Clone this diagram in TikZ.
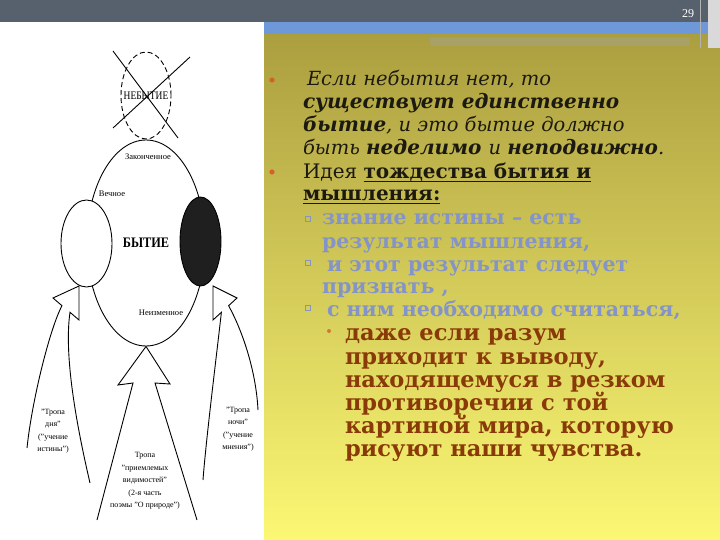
\documentclass[tikz,border=0pt]{standalone}
\usepackage{fontspec}
\setmainfont{Liberation Serif}
\newfontfamily\djs{DejaVu Serif}
\usetikzlibrary{shapes.geometric}
\definecolor{band}{HTML}{57616D}
\definecolor{olivetop}{HTML}{A99C3E}
\definecolor{olivemid}{HTML}{C5B750}
\definecolor{olivebot}{HTML}{FCF874}
\definecolor{bluestrip}{HTML}{6F98D8}
\definecolor{grayband}{HTML}{A4A282}
\definecolor{maintxt}{HTML}{1C1A10}
\definecolor{bluetxt}{HTML}{8494C8}
\definecolor{browntxt}{HTML}{8A3A08}
\definecolor{bulorange}{HTML}{D6602A}
\newsavebox\ulbox
\newcommand\ulx[1]{\sbox\ulbox{#1}\rlap{\rule[-3pt]{\wd\ulbox}{1.4pt}}\usebox\ulbox}
\newcommand\txtit{\djs\mdseries\itshape\fontsize{19.5}{23}\selectfont}
\newcommand\txtbi{\djs\bfseries\itshape\fontsize{20}{23}\selectfont}
\newcommand\txtbf{\djs\bfseries\upshape}
\begin{document}
\begin{tikzpicture}[x=1pt,y=-1pt,
  ln/.style={anchor=base west, inner sep=0pt, outer sep=0pt},
  lab/.style={inner sep=0pt, font=\fontsize{8.5}{10}\selectfont},
  arrlab/.style={inner sep=0pt, align=center, font=\fontsize{8}{12.4}\selectfont},
  shp/.style={line width=0.9pt},
  mainf/.style={font=\fontsize{20}{23}\selectfont, text=maintxt},
  bluef/.style={font=\fontsize{20.5}{23}\selectfont\txtbf, text=bluetxt},
  brownf/.style={font=\fontsize{22.5}{23}\selectfont\txtbf, text=browntxt}]
\useasboundingbox (0,0) rectangle (720,540);
\fill[white] (0,0) rectangle (720,540);
% right panel
\shade[top color=olivetop, middle color=olivemid, bottom color=olivebot] (264,22) rectangle (720,540);
\fill[bluestrip] (264,21) rectangle (720,34);
\fill[grayband, opacity=0.6] (430,37) rectangle (690,46);
\fill[band] (0,0) rectangle (720,22);
\fill[gray!30] (708,0) rectangle (720,48);
\draw[gray!60, line width=1pt] (700,0) -- (700,48);
\node[text=white, font=\fontsize{12}{12}\selectfont] (pg) at (688,14) {29};

% ---------- diagram ----------
\node[ellipse, draw, shp, dash pattern=on 5pt off 3pt, minimum width=50, minimum height=87, inner sep=0pt] (neb) at (146,95.5) {};
\node[inner sep=0pt, font=\fontsize{11.5}{11.5}\selectfont] (nebt) at (146,96) {\scalebox{0.82}[1]{НЕБЫТИЕ}};
\coordinate (c1a) at (113,51); \coordinate (c1b) at (178,138);
\coordinate (c2a) at (190,57); \coordinate (c2b) at (113,128);
\draw[shp] (c1a) -- (c1b);
\draw[shp] (c2a) -- (c2b);

\node[ellipse, draw, shp, minimum width=118, minimum height=206, inner sep=0pt] (byt) at (146,243) {};
\node[ellipse, draw, shp, fill=white, minimum width=51, minimum height=87, inner sep=0pt] (lft) at (86.5,243.5) {};
\node[ellipse, draw, shp, fill=black!88, minimum width=41, minimum height=89, inner sep=0pt] (rgt) at (200.5,241.5) {};

\node[inner sep=0pt, font=\fontsize{14.5}{14.5}\selectfont\bfseries] (bytt) at (146,243) {\scalebox{0.85}[1]{БЫТИЕ}};
\node[lab] (zak) at (148,157) {Законченное};
\node[lab] (vech) at (112,194) {Вечное};
\node[lab] (neiz) at (161,313) {Неизменное};

% centre arrow
\draw[shp, line join=miter] (97,520) -- (133,383) -- (118,385) -- (byt.south) -- (170,384) -- (155,383) -- (197,520);
% left arrow
\coordinate (ltip) at (79,286);
\draw[shp] (27,448) .. controls (32,400) and (50,328) .. (62,305.7) -- (53,298) -- (ltip) -- (79,320) -- (70,312.3) .. controls (63,360) and (80,440) .. (90,483);
% right arrow
\coordinate (rtip) at (213,286);
\draw[shp] (258,410) .. controls (256,370) and (242,330) .. (228.6,305.7) -- (237,298) -- (rtip) -- (213,320) -- (221.4,312.3) .. controls (216,360) and (206,440) .. (203,480);

\node[arrlab] (l1) at (53,431) {"Тропа\\дня"\\("учение\\истины")};
\node[arrlab] (l2) at (238,429) {"Тропа\\ночи"\\("учение\\мнения")};
\node[arrlab] (l3) at (145,481) {Тропа\\"приемлемых\\видимостей"\\(2-я часть\\поэмы "О природе")};

% ---------- text ----------
\fill[bulorange] (272,80) circle (2.6);
\fill[bulorange] (272,172) circle (2.6);
\node[ln, mainf] (t1) at (307,86) {\txtit Если небытия нет, то};
\node[ln, mainf] (t2) at (303,109) {\txtbi существует единственно};
\node[ln, mainf] (t3) at (303,132) {\txtbi бытие\txtit, и  это бытие должно};
\node[ln, mainf] (t4) at (303,155) {\txtit быть \txtbi неделимо \txtit и \txtbi неподвижно\txtit .};
\node[ln, mainf] (t5) at (303,179) {\djs Идея \txtbf\ulx{тождества бытия и}};
\node[ln, mainf] (t6) at (303,201) {\txtbf\ulx{мышления:}};

\foreach \yy in {219,263,308} \draw[bluetxt, line width=0.8pt] (305,\yy-2.5) rectangle (310,\yy+2.5);
\node[ln, bluef] (b1) at (322,225) {знание истины – есть};
\node[ln, bluef] (b2) at (322,248) {результат мышления,};
\node[ln, bluef] (b3) at (327,271) {и этот результат следует};
\node[ln, bluef] (b4) at (322,293) {признать ,};
\node[ln, bluef] (b5) at (327,316) {с ним необходимо считаться,};

\fill[bulorange!70!olivemid] (329,331) circle (2);
\node[ln, brownf] (r1) at (345,340) {даже если разум};
\node[ln, brownf] (r2) at (345,364) {приходит к выводу,};
\node[ln, brownf] (r3) at (345,387) {находящемуся в резком};
\node[ln, brownf] (r4) at (345,410) {противоречии с той};
\node[ln, brownf] (r5) at (345,433) {картиной мира, которую};
\node[ln, brownf] (r6) at (345,456) {рисуют наши чувства.};
\end{tikzpicture}
\end{document}
